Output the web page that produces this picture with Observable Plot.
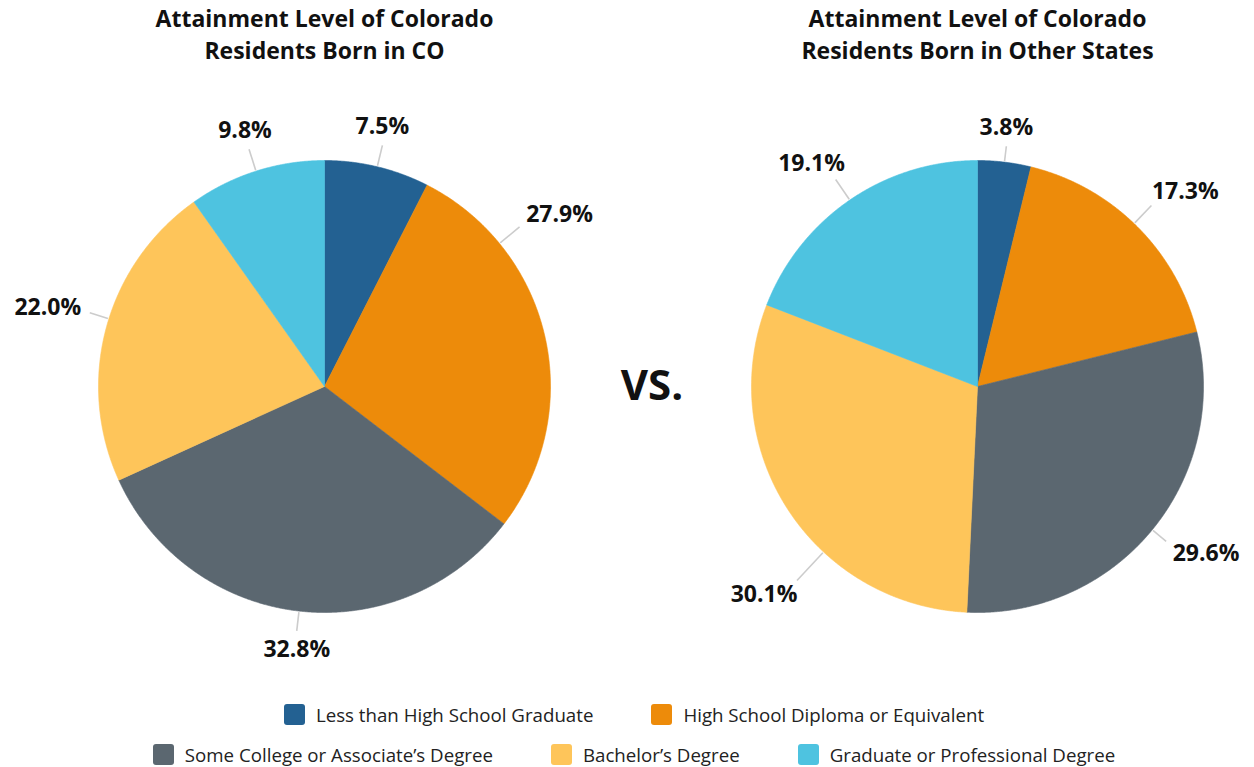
<!DOCTYPE html>
<html>
<head>
<meta charset="utf-8">
<script src="https://cdn.jsdelivr.net/npm/d3@7"></script>
<script src="https://cdn.jsdelivr.net/npm/@observablehq/plot@0.6"></script>
<style>
  html, body { margin: 0; padding: 0; background: #fff; overflow: hidden; }
  body { font-family: "Open Sans", sans-serif; color: #222; width: 1254px; }
  #legend { width: 1254px; padding-left: 14px; box-sizing: border-box; }
  .row { display: flex; justify-content: center; align-items: center; height: 40px; }
  .item { display: flex; align-items: center; margin: 0 29px; font-size: 18.7px; color: #222; }
  .sw { width: 21px; height: 21px; border-radius: 3px; margin-right: 11px; }
</style>
</head>
<body>
<div id="chart"></div>
<div id="legend"></div>
<script>
// ---- data ----
const categories = [
  "Less than High School Graduate",
  "High School Diploma or Equivalent",
  "Some College or Associate’s Degree",
  "Bachelor’s Degree",
  "Graduate or Professional Degree"
];
const bornInCO = [7.5, 27.9, 32.8, 22.0, 9.8];
const bornInOtherStates = [3.8, 17.3, 29.6, 30.1, 19.1];
const pieTitles = [
  "Attainment Level of Colorado\nResidents Born in CO",
  "Attainment Level of Colorado\nResidents Born in Other States"
];
const legendRows = [[0, 1], [2, 3, 4]];

// ---- styling / layout ----
const colors = ["#236192", "#ED8B0A", "#5B6770", "#FEC55A", "#4EC3E0"];
const W = 1254, H = 694;
const pies = [
  {values: bornInCO, cx: 324, cy: 386, r: 226,
   // label angle nudge (deg) and leader length, per slice
   nudge: [0, -26.5, 0, 2.3, 0], len: [22, 26, 20, 20, 23]},
  {values: bornInOtherStates, cx: 977, cy: 386, r: 226,
   nudge: [0, -1, 0, -14, 0], len: [16, 25, 18, 39, 25]}
];

const slicePts = [], leaders = [], labels = [], titleRows = [];
const fmt = d3.format(".1f");
pies.forEach((p, pi) => {
  const arcs = d3.pie().sort(null).value(d => d)(p.values);
  arcs.forEach((a, i) => {
    const id = pi + "-" + i;
    slicePts.push({x: p.cx, y: p.cy, cat: categories[i], id});
    const n = Math.max(2, Math.ceil((a.endAngle - a.startAngle) / 0.004));
    for (let k = 0; k <= n; k++) {
      const t = a.startAngle + (a.endAngle - a.startAngle) * k / n;
      slicePts.push({x: p.cx + p.r * Math.sin(t), y: p.cy - p.r * Math.cos(t), cat: categories[i], id});
    }
    slicePts.push({x: p.cx, y: p.cy, cat: categories[i], id});
    const mid = (a.startAngle + a.endAngle) / 2 + p.nudge[i] * Math.PI / 180;
    const s = Math.sin(mid), c = Math.cos(mid);
    const r1 = p.r + 1, r2 = p.r + p.len[i];
    const ex = p.cx + r2 * s, ey = p.cy - r2 * c;
    leaders.push({x1: p.cx + r1 * s, y1: p.cy - r1 * c, x2: ex, y2: ey});
    const f = Math.sign(s) * Math.min(1, Math.max(0, (Math.abs(s) - 0.25) / 0.55));
    labels.push({x: ex + f * 42, y: ey - c * 19, text: fmt(p.values[i]) + "%"});
  });
  titleRows.push({x: p.cx, y: 32.5, text: pieTitles[pi]});
});

const chart = Plot.plot({
  width: W, height: H, margin: 0,
  style: {fontFamily: "'Open Sans', sans-serif", background: "#fff"},
  x: {domain: [0, W], range: [0, W], axis: null},
  y: {domain: [0, H], range: [0, H], axis: null},
  color: {domain: categories, range: colors},
  marks: [
    Plot.line(slicePts, {x: "x", y: "y", z: "id", fill: "cat", stroke: "cat", strokeWidth: 0.6, curve: "linear"}),
    Plot.link(leaders, {x1: "x1", y1: "y1", x2: "x2", y2: "y2", stroke: "#cccccc", strokeWidth: 1.6}),
    Plot.text(labels, {x: "x", y: "y", text: "text", fontSize: 23, fontWeight: 700, fill: "#111"}),
    Plot.text(titleRows, {x: "x", y: "y", text: "text", fontSize: 23, lineHeight: 1.37, fontWeight: 700, fill: "#111"}),
    Plot.text(["VS."], {x: (pies[0].cx + pies[1].cx) / 2 + 1, y: pies[0].cy, text: d => d, fontSize: 42, fontWeight: 700, fill: "#111"})
  ]
});
document.getElementById("chart").appendChild(chart);

const legend = document.getElementById("legend");
legendRows.forEach(row => {
  const div = document.createElement("div");
  div.className = "row";
  row.forEach(i => {
    const it = document.createElement("div");
    it.className = "item";
    it.innerHTML = `<span class="sw" style="background:${colors[i]}"></span><span></span>`;
    it.lastChild.textContent = categories[i];
    div.appendChild(it);
  });
  legend.appendChild(div);
});
</script>
</body>
</html>
